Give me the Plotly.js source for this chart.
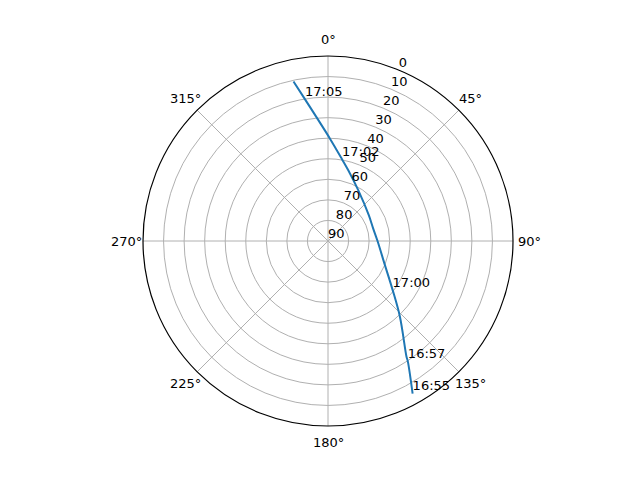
<!DOCTYPE html>
<html>
<head>
<meta charset="utf-8">
<script src="https://cdn.plot.ly/plotly-3.0.1.min.js"></script>
<style>
  html, body { margin: 0; padding: 0; background: #ffffff; }
  #chart { width: 640px; height: 480px; }
</style>
</head>
<body>
<div id="chart"></div>
<script>
// satellite pass, azimuth (deg, clockwise from north) / elevation (deg)
const passAz = [151.0, 146.5, 145.8, 136.4, 127.1, 112.8, 90.0, 74.3, 57.6, 30.7, 16.0, 9.7, 1.1, 350.8, 347.8]
const passEl = [5.1, 19.6, 22.1, 39.3, 50.6, 60.0, 65.9, 67.2, 66.5, 61.2, 54.2, 49.6, 40.2, 20.2, 10.6]

// time markers along the pass
const labelTimes = ['16:55', '16:57', '17:00', '17:02', '17:05']
const labelAz = [151.0, 146.5, 127.1, 9.7, 350.8]
const labelEl = [5.1, 19.6, 50.6, 49.6, 20.2]

const elevTicks = [0, 10, 20, 30, 40, 50, 60, 70, 80, 90]
const elevLabelAz = 22.5
const azTicks = [0, 45, 90, 135, 180, 225, 270, 315]
const azTickText = azTicks.map(a => a + '°')

const font = { family: 'DejaVu Sans', size: 13, color: '#000000' }

// angular tick labels sit a fixed pad outside the rim, like matplotlib does
const plotSize = 371
const labelPad = 17
const azAnnotations = azTicks.map((a, i) => {
  const rad = a * Math.PI / 180
  const d = (plotSize / 2 + labelPad) / plotSize
  return {
    xref: 'paper', yref: 'paper',
    x: 0.5 + d * Math.sin(rad),
    y: 0.5 + d * Math.cos(rad),
    text: azTickText[i],
    showarrow: false,
    xanchor: 'center', yanchor: 'middle',
    font: font,
  }
})

const data = [
  {
    type: 'scatterpolar',
    mode: 'lines',
    theta: passAz,
    r: passEl,
    line: { color: '#1f77b4', width: 2, shape: 'spline', smoothing: 1 },
    hoverinfo: 'skip',
    showlegend: false,
  },
  {
    type: 'scatterpolar',
    mode: 'text',
    theta: elevTicks.map(() => elevLabelAz),
    r: elevTicks,
    text: elevTicks.map(String),
    textposition: 'top right',
    textfont: font,
    hoverinfo: 'skip',
    showlegend: false,
    cliponaxis: false,
  },
  {
    type: 'scatterpolar',
    mode: 'text',
    theta: labelAz,
    r: labelEl,
    text: labelTimes,
    textposition: 'top right',
    textfont: font,
    hoverinfo: 'skip',
    showlegend: false,
    cliponaxis: false,
  },
]

const layout = {
  width: 640,
  height: 480,
  paper_bgcolor: '#ffffff',
  font: font,
  margin: { t: 55.5, r: 126.5, b: 53.5, l: 142.5 },
  annotations: azAnnotations,
  polar: {
    domain: { x: [0, 1], y: [0, 1] },
    bgcolor: '#ffffff',
    angularaxis: {
      rotation: 90,
      direction: 'clockwise',
      tickvals: azTicks,
      showticklabels: false,
      ticks: '',
      showline: true,
      linecolor: '#000000',
      linewidth: 1.2,
      gridcolor: '#b0b0b0',
      gridwidth: 1,
    },
    radialaxis: {
      range: [90, 0],
      tickvals: elevTicks,
      ticks: '',
      showline: false,
      showticklabels: false,
      gridcolor: '#b0b0b0',
      gridwidth: 1,
    },
  },
}

Plotly.newPlot('chart', data, layout, { displayModeBar: false, staticPlot: true })
</script>
</body>
</html>
